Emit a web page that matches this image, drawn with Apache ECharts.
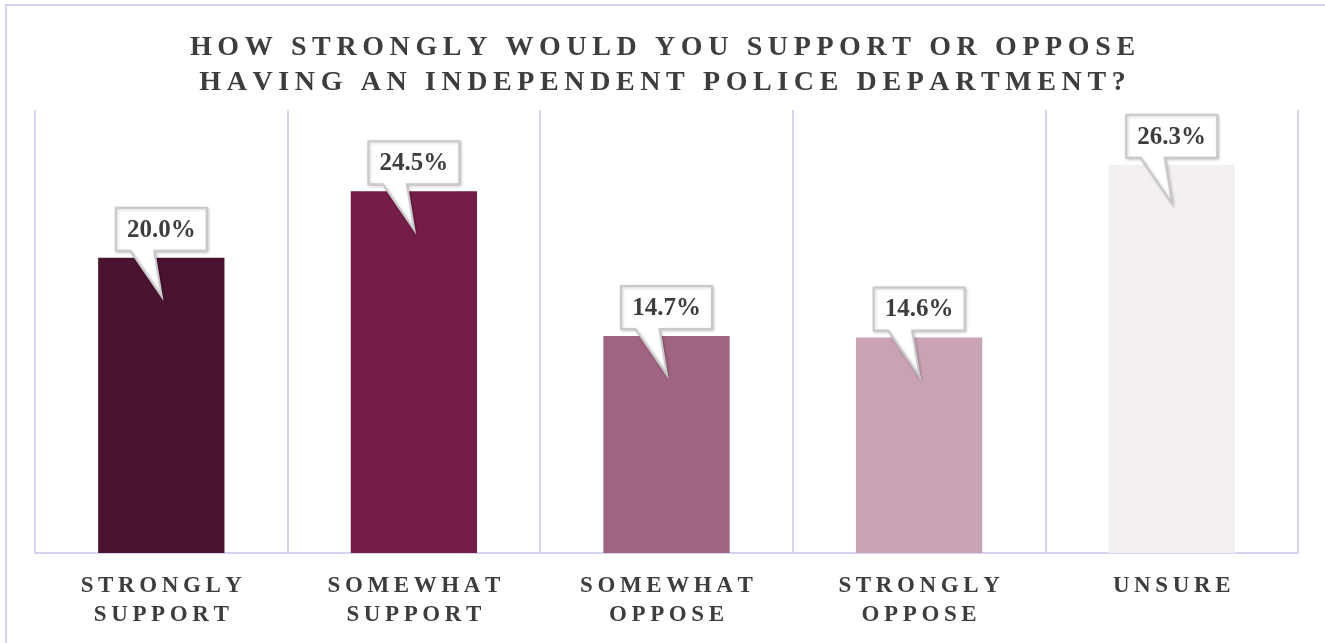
<!DOCTYPE html>
<html>
<head>
<meta charset="utf-8">
<title>Independent Police Department</title>
<script src="https://cdn.jsdelivr.net/npm/echarts@6/dist/echarts.min.js"></script>
<style>
  html, body { margin: 0; padding: 0; background: #ffffff; }
  #chart { width: 1325px; height: 643px; }
</style>
</head>
<body>
<div id="chart"></div>
<script>
// Survey answers and their shares (percent of respondents)
const categories = ['STRONGLY\nSUPPORT', 'SOMEWHAT\nSUPPORT', 'SOMEWHAT\nOPPOSE', 'STRONGLY\nOPPOSE', 'UNSURE'];
const shares = [20.0, 24.5, 14.7, 14.6, 26.3];
const barColors = ['#4a1330', '#731d47', '#a06480', '#c9a2b6', '#f3eff3'];
const titleLines = ['HOW STRONGLY WOULD YOU SUPPORT OR OPPOSE', 'HAVING AN INDEPENDENT POLICE DEPARTMENT?'];

// Tracked-out caps: put a thin space between the letters
const TRACK = '\u2009';
function track(s) {
  return s.split('\n').map(line => Array.from(line).join(TRACK)).join('\n');
}

const SERIF = '"Liberation Serif", "DejaVu Serif", serif';
const INK = '#3d3d3d';
const GRID_LINE = '#d6d2f0';

const chart = echarts.init(document.getElementById('chart'));

// Speech-bubble callout above each bar, pointing down into the bar top
function renderCallout(params, api) {
  const idx = api.value(0);
  const val = api.value(1);
  const top = api.coord([idx, val]);
  const cx = top[0];
  const boxW = 91, boxH = 43;
  const bottom = top[1] - 7;
  const left = cx - boxW / 2, right = cx + boxW / 2, upper = bottom - boxH;
  const tip = [cx + 0.5, top[1] + 39];
  const label = val.toFixed(1) + '%';
  return {
    type: 'group',
    children: [
      {
        type: 'polygon',
        shape: {
          points: [
            [left, upper], [right, upper], [right, bottom],
            [cx - 7, bottom], tip, [cx - 31, bottom], [left, bottom]
          ]
        },
        style: {
          fill: '#ffffff',
          stroke: '#c9c9c9',
          lineWidth: 2,
          shadowBlur: 3,
          shadowOffsetX: 1,
          shadowOffsetY: 1,
          shadowColor: 'rgba(0,0,0,0.2)'
        }
      },
      {
        type: 'text',
        style: {
          text: label,
          x: cx,
          y: upper + boxH / 2 + 1,
          align: 'center',
          verticalAlign: 'middle',
          fill: INK,
          font: 'bold 25px ' + SERIF
        }
      }
    ]
  };
}

const option = {
  backgroundColor: '#ffffff',
  animation: false,
  title: {
    text: track(titleLines.join('\n')),
    left: 'center',
    top: 25,
    textStyle: {
      fontFamily: SERIF,
      fontWeight: 'bold',
      fontSize: 28,
      lineHeight: 35,
      color: INK
    }
  },
  graphic: [{
    type: 'rect',
    shape: { x: 6, y: 5, width: 1340, height: 660 },
    style: { fill: 'none', stroke: GRID_LINE, lineWidth: 2 },
    silent: true
  }],
  grid: { left: 35, right: 27, top: 110, bottom: 90 },
  xAxis: {
    type: 'category',
    data: categories.map(track),
    axisLine: { lineStyle: { color: GRID_LINE, width: 2 } },
    axisTick: { show: false },
    splitLine: { show: true, lineStyle: { color: GRID_LINE, width: 2 } },
    axisLabel: {
      margin: 19,
      fontFamily: SERIF,
      fontWeight: 'bold',
      fontSize: 23,
      lineHeight: 29,
      color: INK,
      interval: 0
    }
  },
  yAxis: {
    type: 'value',
    min: 0,
    max: 30,
    show: false,
    splitLine: { show: false }
  },
  series: [
    {
      type: 'bar',
      barWidth: '50%',
      data: shares.map((v, i) => ({ value: v, itemStyle: { color: barColors[i] } })),
      z: 2
    },
    {
      type: 'custom',
      renderItem: renderCallout,
      data: shares.map((v, i) => [i, v]),
      z: 5
    }
  ]
};

chart.setOption(option);
</script>
</body>
</html>
